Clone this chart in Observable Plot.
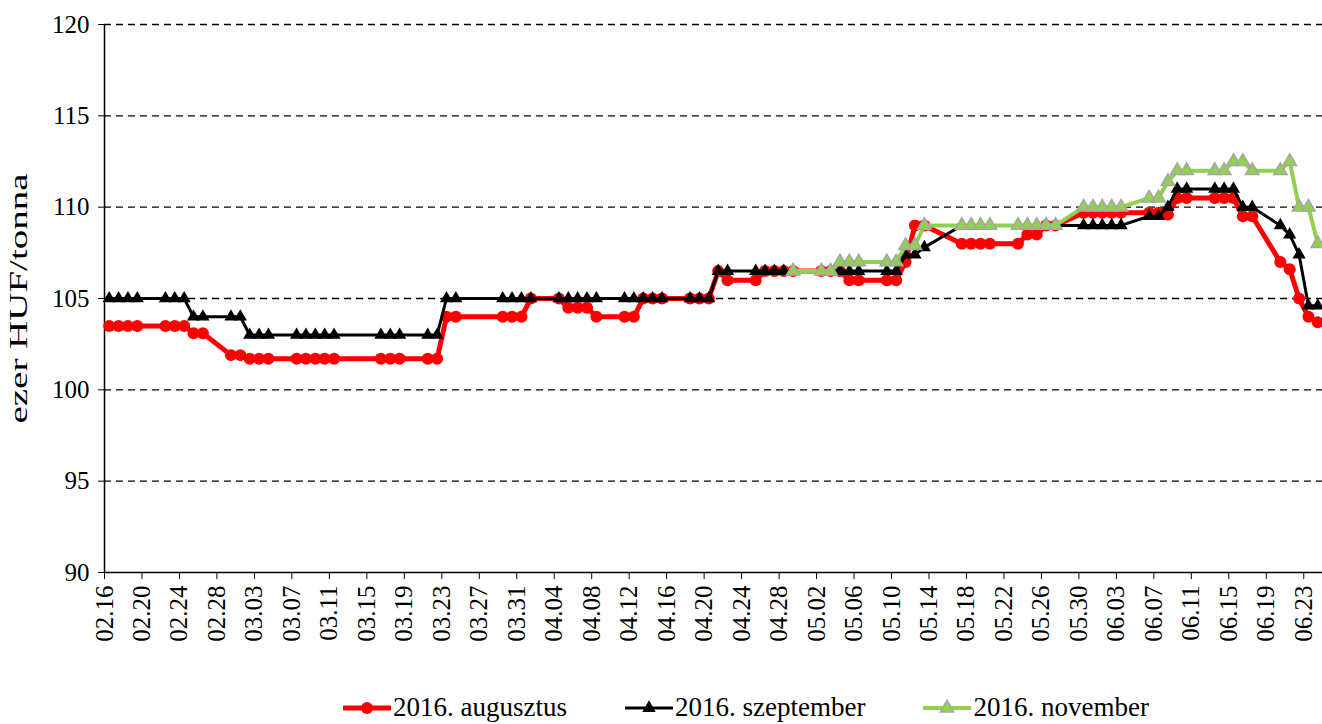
<!DOCTYPE html>
<html>
<head>
<meta charset="utf-8">
<script src="https://cdn.jsdelivr.net/npm/d3@7"></script>
<script src="https://cdn.jsdelivr.net/npm/@observablehq/plot@0.6"></script>
<style>
  html, body { margin: 0; padding: 0; background: #fff; }
  #wrap { position: relative; width: 1322px; height: 724px; overflow: hidden; font-family: "Liberation Serif", "DejaVu Serif", serif; }
  #chart svg text { font-family: "Liberation Serif", "DejaVu Serif", serif; }
  #legend { position: absolute; left: 343px; top: 692px; display: flex; align-items: center; gap: 58px; font-size: 27px; color: #000; }
  .item { display: flex; align-items: center; gap: 2px; white-space: nowrap; }
</style>
</head>
<body>
<div id="wrap">
  <div id="chart"></div>
  <div id="legend"></div>
</div>
<script>
const year = 2016;
const dates = ["02.16","02.17","02.18","02.19","02.22","02.23","02.24","02.25","02.26","02.29",
"03.01","03.02","03.03","03.04","03.07","03.08","03.09","03.10","03.11","03.16","03.17","03.18",
"03.21","03.22","03.23","03.24","03.29","03.30","03.31","04.01","04.04","04.05","04.06","04.07","04.08",
"04.11","04.12","04.13","04.14","04.15","04.18","04.19","04.20","04.21","04.22","04.25","04.26","04.27","04.28","04.29",
"05.02","05.03","05.04","05.05","05.06","05.09","05.10","05.11","05.12","05.13","05.17","05.18","05.19","05.20",
"05.23","05.24","05.25","05.26","05.27","05.30","05.31","06.01","06.02","06.03","06.06","06.07","06.08","06.09","06.10",
"06.13","06.14","06.15","06.16","06.17","06.20","06.21","06.22","06.23","06.24"];

const augusztus = [103.5,103.5,103.5,103.5,103.5,103.5,103.5,103.1,103.1,101.9,
101.9,101.7,101.7,101.7,101.7,101.7,101.7,101.7,101.7,101.7,101.7,101.7,
101.7,101.7,104,104,104,104,104,105,105,104.5,104.5,104.5,104,
104,104,105,105,105,105,105,105,106.5,106,106,106.5,106.5,106.5,106.5,
106.5,106.5,106.5,106,106,106,106,107,109,109,108,108,108,108,
108,108.5,108.5,109,109,109.7,109.7,109.7,109.7,109.7,109.7,109.7,109.6,110.5,110.5,
110.5,110.5,110.5,109.5,109.5,107,106.6,105,104,103.7];

const szeptember = [105,105,105,105,105,105,105,104,104,104,
104,103,103,103,103,103,103,103,103,103,103,103,
103,103,105,105,105,105,105,105,105,105,105,105,105,
105,105,105,105,105,105,105,105,106.5,106.5,106.5,106.5,106.5,106.5,106.5,
106.5,106.5,106.5,106.5,106.5,106.5,106.5,107.4,107.4,107.8,109,109,109,109,
109,109,109,109,109,109,109,109,109,109,109.5,109.5,110,111,111,
111,111,111,110,110,109,108.5,107.4,104.6,104.6];

const november = [null,null,null,null,null,null,null,null,null,null,
null,null,null,null,null,null,null,null,null,null,null,null,
null,null,null,null,null,null,null,null,null,null,null,null,null,
null,null,null,null,null,null,null,null,null,null,null,null,null,null,106.5,
106.5,106.5,107,107,107,107,107,107.9,107.9,109,109,109,109,109,
109,109,109,109,109,110,110,110,110,110,110.5,110.5,111.4,112,112,
112,112,112.5,112.5,112,112,112.5,110,110,108];

const seriesNames = ["2016. augusztus", "2016. szeptember", "2016. november"];
const seriesColors = ["#ff0000", "#000000", "#92d050"];
const yTicks = [90, 95, 100, 105, 110, 115, 120];
const gridValues = [95, 100, 105, 110, 115, 120];
const xTickLabels = ["02.16","02.20","02.24","02.28","03.03","03.07","03.11","03.15","03.19","03.23","03.27","03.31",
"04.04","04.08","04.12","04.16","04.20","04.24","04.28","05.02","05.06","05.10","05.14","05.18","05.22","05.26",
"05.30","06.03","06.07","06.11","06.15","06.19","06.23"];
const yLabel = "ezer HUF/tonna";

const toDate = (s, hours = 0) => {
  const [m, d] = s.split(".").map(Number);
  return new Date(Date.UTC(year, m - 1, d, hours));
};

const rows = (vals, name) => dates.map((s, i) => ({date: toDate(s, 12), value: vals[i], series: name}))
  .filter(r => r.value != null);
const red = rows(augusztus, seriesNames[0]);
const black = rows(szeptember, seriesNames[1]);
const green = rows(november, seriesNames[2]);

const xDomain = [toDate("02.16"), toDate("06.25")];
const xTicks = xTickLabels.map(s => toDate(s));
const fmt = d3.utcFormat("%m.%d");
const serif = "'Liberation Serif', 'DejaVu Serif', serif";

const chart = Plot.plot({
  width: 1322,
  height: 680,
  marginTop: 24,
  marginLeft: 104,
  marginRight: 0,
  marginBottom: 108,
  style: {fontFamily: serif, fontSize: "25px", color: "#000", background: "#fff", overflow: "visible"},
  x: {type: "utc", domain: xDomain},
  y: {domain: [90, 120]},
  marks: [
    Plot.ruleY(gridValues, {stroke: "#000", strokeWidth: 1.3, strokeDasharray: "7,5"}),
    Plot.axisY({ticks: yTicks, tickSize: 6, tickPadding: 9, tickFormat: d => d, label: null, fontSize: 25}),
    Plot.axisX({ticks: xTicks, tickFormat: fmt, tickRotate: -90, tickSize: 7, tickPadding: 6, label: null, fontSize: 25}),
    Plot.ruleY([90], {stroke: "#000", strokeWidth: 1.5}),
    Plot.ruleX([xDomain[0]], {stroke: "#000", strokeWidth: 1.5}),
    Plot.text([yLabel], {frameAnchor: "left", textAnchor: "middle", rotate: -90, dx: -86, fontSize: 25, fill: "#000", className: "ylabel"}),
    Plot.line(red, {x: "date", y: "value", stroke: seriesColors[0], strokeWidth: 5}),
    Plot.dot(red, {x: "date", y: "value", r: 6, fill: seriesColors[0], stroke: "none", symbol: "circle"}),
    Plot.line(black, {x: "date", y: "value", stroke: seriesColors[1], strokeWidth: 3}),
    Plot.dot(black, {x: "date", y: "value", r: 4.9, fill: seriesColors[1], stroke: "none", symbol: "triangle"}),
    Plot.line(green, {x: "date", y: "value", stroke: seriesColors[2], strokeWidth: 4}),
    Plot.dot(green, {x: "date", y: "value", r: 5, fill: seriesColors[2], stroke: "#a6a6a6", strokeWidth: 1.5, symbol: "triangle"})
  ]
});
d3.select(chart).selectAll("text").filter(function() { return this.textContent === yLabel; })
  .attr("textLength", 250).attr("lengthAdjust", "spacingAndGlyphs");
document.getElementById("chart").appendChild(chart);

// Legend
const legend = d3.select("#legend");
const symbols = ["circle", "triangle", "triangle"];
const widths = [5, 3, 4];
seriesNames.forEach((name, i) => {
  const item = legend.append("div").attr("class", "item");
  const svg = item.append("svg").attr("width", 48).attr("height", 20);
  svg.append("line").attr("x1", 0).attr("x2", 48).attr("y1", 10).attr("y2", 10)
    .attr("stroke", seriesColors[i]).attr("stroke-width", widths[i]);
  const sym = symbols[i] === "circle" ? d3.symbolCircle : d3.symbolTriangle;
  const area = symbols[i] === "circle" ? Math.PI * 6 * 6 : Math.PI * 5 * 5;
  svg.append("path").attr("d", d3.symbol(sym, area)()).attr("transform", "translate(24,10)")
    .attr("fill", seriesColors[i])
    .attr("stroke", i === 2 ? "#a6a6a6" : "none").attr("stroke-width", 1.5);
  item.append("span").text(name);
});
</script>
</body>
</html>
